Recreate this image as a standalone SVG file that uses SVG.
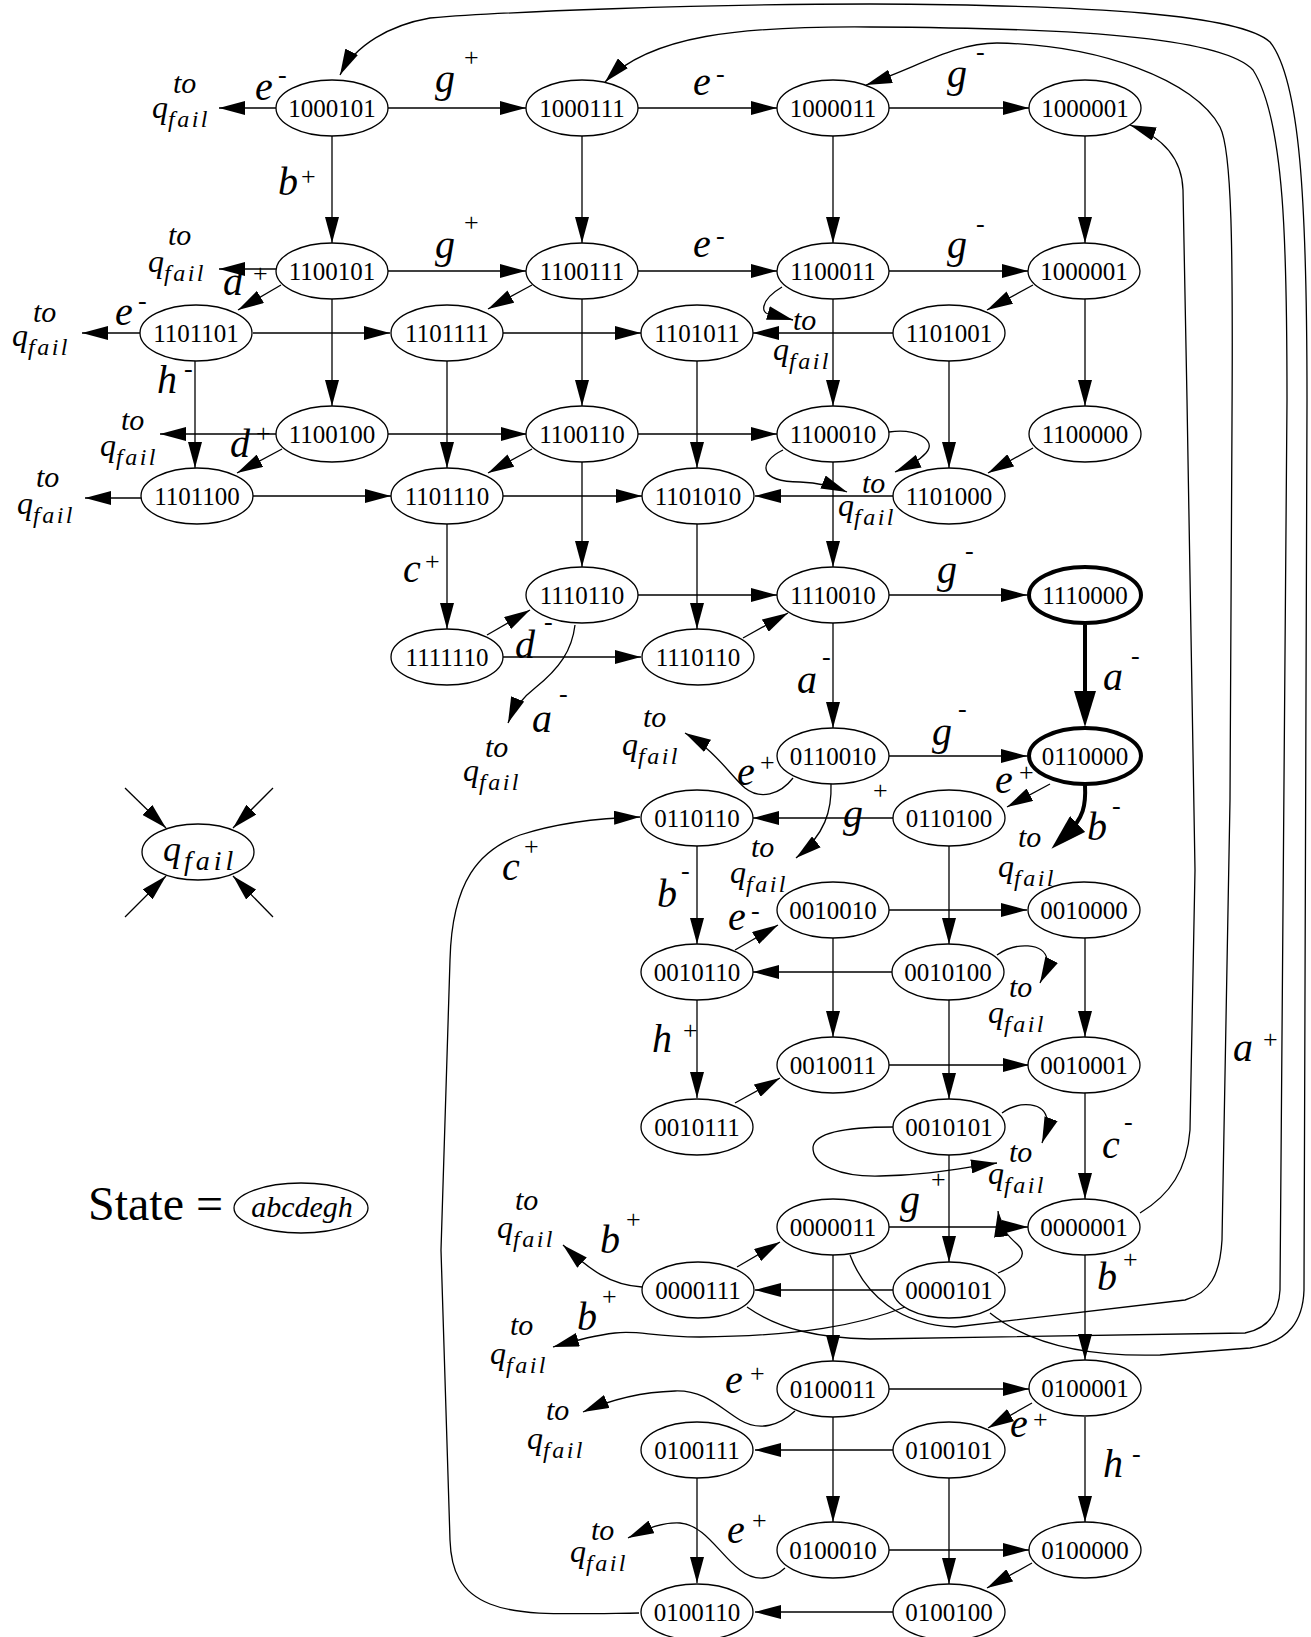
<svg xmlns="http://www.w3.org/2000/svg" width="1311" height="1637" viewBox="0 0 1311 1637">
<style>
.e path{fill:none;stroke:#000;stroke-width:1.3;marker-end:url(#ah)}
.e path.b{stroke-width:4;marker-end:url(#ahb)}
.n ellipse{fill:#fff;stroke:#000;stroke-width:1.3}
.n.bold ellipse{stroke-width:4}
.n text{font-family:"Liberation Serif",serif;font-size:25px;text-anchor:middle}
.l{font-family:"Liberation Serif",serif;font-style:italic;font-size:40px}
.s{font-style:normal;font-size:26px}
.t{font-family:"Liberation Serif",serif;font-style:italic;font-size:30px}
.q{font-size:32px}
.f{font-size:24px;letter-spacing:2.5px}
</style>
<defs>
<marker id="ah" viewBox="0 0 26 14" refX="26" refY="7" markerWidth="26" markerHeight="14" markerUnits="userSpaceOnUse" orient="auto"><path d="M0,0 L26,7 L0,14 Z" fill="#000"/></marker>
<marker id="ahb" viewBox="0 0 36 22" refX="16" refY="11" markerWidth="36" markerHeight="22" markerUnits="userSpaceOnUse" orient="auto"><path d="M0,0 L36,11 L0,22 Z" fill="#000"/></marker>
</defs>
<rect width="1311" height="1637" fill="#fff"/>
<g id="edges" class="e">
<path d="M276,108H219"/><path d="M388,108H526"/><path d="M638,108H777"/><path d="M889,108H1029"/>
<path d="M276,269H219"/><path d="M388,271H526"/><path d="M638,271H777"/><path d="M889,271H1028"/>
<path d="M140,333H82"/><path d="M253,333H390"/><path d="M503,333H641"/><path d="M893,333H753"/>
<path d="M276,434H160"/><path d="M388,434H527"/><path d="M638,434H777"/>
<path d="M141,498H85"/><path d="M253,496H391"/><path d="M503,496H642"/><path d="M893,496H755"/>
<path d="M638,595H777"/><path d="M889,595H1027"/><path d="M503,657H641"/>
<path d="M889,756H1027"/><path d="M893,818H753"/><path d="M889,910H1027"/><path d="M892,972H753"/>
<path d="M889,1065H1029"/><path d="M889,1227H1028"/><path d="M893,1290H755"/><path d="M889,1389H1029"/>
<path d="M893,1450H755"/><path d="M889,1550H1029"/><path d="M893,1612H755"/>
<path d="M332,136V243"/><path d="M332,299V406"/>
<path d="M582,136V243"/><path d="M582,299V406"/><path d="M582,462V567"/>
<path d="M833,136V243"/><path d="M833,299V406"/><path d="M833,462V567"/><path d="M833,623V728"/>
<path d="M833,938V1037"/><path d="M833,1255V1361"/><path d="M833,1417V1522"/>
<path d="M1085,136V243"/><path d="M1085,299V406"/><path d="M1085,938V1037"/><path d="M1085,1093V1199"/>
<path d="M1085,1255V1360"/><path d="M1085,1417V1522"/>
<path class="b" d="M1085,625V707"/>
<path d="M195,361V468"/><path d="M447,361V468"/><path d="M447,524V629"/>
<path d="M697,361V468"/><path d="M697,524V629"/><path d="M697,846V944"/><path d="M697,1000V1098"/><path d="M697,1478V1583"/>
<path d="M949,361V468"/><path d="M949,846V944"/><path d="M949,1000V1099"/><path d="M949,1155V1262"/><path d="M949,1478V1584"/>
<path d="M281,285L238,310"/><path d="M532,285L488,309"/><path d="M1033,285L987,310"/>
<path d="M282,449L237,473"/><path d="M532,449L488,473"/><path d="M1033,448L988,473"/>
<path d="M487,635L530,610"/><path d="M743,638L788,613"/><path d="M1050,784L1007,807"/>
<path d="M735,950L778,925"/><path d="M735,1103L780,1078"/><path d="M737,1267L780,1242"/>
<path d="M1032,1403L988,1428"/><path d="M1032,1563L987,1588"/>
<path d="M125,788L166,828"/><path d="M273,788L233,828"/><path d="M125,917L166,876"/><path d="M273,917L233,876"/>
<path d="M782,287C760,300 758,316 775,315L793,320"/>
<path d="M889,432C915,428 938,440 926,453C918,462 906,467 895,472"/>
<path d="M783,450C758,462 758,482 800,482C820,483 835,487 847,492"/>
<path d="M575,625C572,650 560,668 535,688C522,698 514,708 508,723"/>
<path d="M793,778C780,795 760,800 745,788C730,775 715,750 685,733"/>
<path d="M831,784C832,810 825,835 796,858"/>
<path class="b" d="M1085,785C1086,805 1084,818 1066,835"/>
<path d="M639,1613C560,1614 520,1616 490,1604C460,1592 451,1570 450,1540L441,1250L450,960C452,880 480,850 520,835C560,822 600,818 640,817"/>
<path d="M997,955C1015,942 1045,942 1047,960C1047,968 1044,975 1040,983"/>
<path d="M1002,1113C1020,1100 1045,1102 1047,1120C1047,1128 1045,1135 1042,1143"/>
<path d="M893,1127C850,1127 815,1132 813,1147C812,1165 840,1177 880,1176C930,1175 960,1168 997,1163"/>
<path d="M642,1287C610,1285 590,1270 563,1245"/>
<path d="M905,1307C860,1325 800,1336 700,1337C650,1337 640,1330 615,1333C590,1336 570,1342 553,1347"/>
<path d="M998,1273C1015,1266 1030,1257 1018,1245C1008,1236 1000,1228 998,1211"/>
<path d="M795,1411C780,1425 760,1432 740,1420C720,1408 705,1390 675,1391C640,1392 610,1400 583,1412"/>
<path d="M785,1568C772,1580 755,1582 740,1570C720,1555 705,1525 680,1523C660,1522 645,1530 628,1538"/>
<path d="M990,1313C1030,1345 1090,1357 1160,1355L1250,1348C1290,1342 1303,1320 1304,1290L1307,400C1307,200 1300,80 1270,42C1240,15 1100,5 870,4C700,4 500,12 430,18C390,25 355,45 340,75"/>
<path d="M747,1307C780,1330 820,1338 870,1339L1245,1333C1270,1328 1279,1310 1280,1290L1287,400C1287,250 1285,120 1253,70C1225,40 1100,28 870,27C740,26 650,35 605,82"/>
<path d="M850,1255C865,1295 900,1325 955,1327L1185,1300C1210,1293 1220,1275 1222,1240L1230,800L1232,420C1233,250 1232,150 1220,127C1195,80 1100,45 997,43C955,43 920,66 866,85"/>
<path d="M1140,1213C1170,1195 1187,1170 1190,1130L1195,870L1187,400L1183,190C1182,160 1165,138 1130,125"/>
</g>
<g id="n1000101" class="n"><ellipse cx="332" cy="108" rx="56" ry="28"/><text x="332" y="117">1000101</text></g>
<g id="n1000111" class="n"><ellipse cx="582" cy="108" rx="56" ry="28"/><text x="582" y="117">1000111</text></g>
<g id="n1000011" class="n"><ellipse cx="833" cy="108" rx="56" ry="28"/><text x="833" y="117">1000011</text></g>
<g id="n1000001a" class="n"><ellipse cx="1085" cy="108" rx="56" ry="28"/><text x="1085" y="117">1000001</text></g>
<g id="n1100101" class="n"><ellipse cx="332" cy="271" rx="56" ry="28"/><text x="332" y="280">1100101</text></g>
<g id="n1100111" class="n"><ellipse cx="582" cy="271" rx="56" ry="28"/><text x="582" y="280">1100111</text></g>
<g id="n1100011" class="n"><ellipse cx="833" cy="271" rx="56" ry="28"/><text x="833" y="280">1100011</text></g>
<g id="n1000001b" class="n"><ellipse cx="1084" cy="271" rx="56" ry="28"/><text x="1084" y="280">1000001</text></g>
<g id="n1101101" class="n"><ellipse cx="196" cy="333" rx="56" ry="28"/><text x="196" y="342">1101101</text></g>
<g id="n1101111" class="n"><ellipse cx="447" cy="333" rx="56" ry="28"/><text x="447" y="342">1101111</text></g>
<g id="n1101011" class="n"><ellipse cx="697" cy="333" rx="56" ry="28"/><text x="697" y="342">1101011</text></g>
<g id="n1101001" class="n"><ellipse cx="949" cy="333" rx="56" ry="28"/><text x="949" y="342">1101001</text></g>
<g id="n1100100" class="n"><ellipse cx="332" cy="434" rx="56" ry="28"/><text x="332" y="443">1100100</text></g>
<g id="n1100110" class="n"><ellipse cx="582" cy="434" rx="56" ry="28"/><text x="582" y="443">1100110</text></g>
<g id="n1100010" class="n"><ellipse cx="833" cy="434" rx="56" ry="28"/><text x="833" y="443">1100010</text></g>
<g id="n1100000" class="n"><ellipse cx="1085" cy="434" rx="56" ry="28"/><text x="1085" y="443">1100000</text></g>
<g id="n1101100" class="n"><ellipse cx="197" cy="496" rx="56" ry="28"/><text x="197" y="505">1101100</text></g>
<g id="n1101110" class="n"><ellipse cx="447" cy="496" rx="56" ry="28"/><text x="447" y="505">1101110</text></g>
<g id="n1101010" class="n"><ellipse cx="698" cy="496" rx="56" ry="28"/><text x="698" y="505">1101010</text></g>
<g id="n1101000" class="n"><ellipse cx="949" cy="496" rx="56" ry="28"/><text x="949" y="505">1101000</text></g>
<g id="n1110110a" class="n"><ellipse cx="582" cy="595" rx="56" ry="28"/><text x="582" y="604">1110110</text></g>
<g id="n1110010" class="n"><ellipse cx="833" cy="595" rx="56" ry="28"/><text x="833" y="604">1110010</text></g>
<g id="n1110000" class="n bold"><ellipse cx="1085" cy="595" rx="56" ry="28"/><text x="1085" y="604">1110000</text></g>
<g id="n1111110" class="n"><ellipse cx="447" cy="657" rx="56" ry="28"/><text x="447" y="666">1111110</text></g>
<g id="n1110110b" class="n"><ellipse cx="698" cy="657" rx="56" ry="28"/><text x="698" y="666">1110110</text></g>
<g id="n0110010" class="n"><ellipse cx="833" cy="756" rx="56" ry="28"/><text x="833" y="765">0110010</text></g>
<g id="n0110000" class="n bold"><ellipse cx="1085" cy="756" rx="56" ry="28"/><text x="1085" y="765">0110000</text></g>
<g id="n0110110" class="n"><ellipse cx="697" cy="818" rx="56" ry="28"/><text x="697" y="827">0110110</text></g>
<g id="n0110100" class="n"><ellipse cx="949" cy="818" rx="56" ry="28"/><text x="949" y="827">0110100</text></g>
<g id="n0010010" class="n"><ellipse cx="833" cy="910" rx="56" ry="28"/><text x="833" y="919">0010010</text></g>
<g id="n0010000" class="n"><ellipse cx="1084" cy="910" rx="56" ry="28"/><text x="1084" y="919">0010000</text></g>
<g id="n0010110" class="n"><ellipse cx="697" cy="972" rx="56" ry="28"/><text x="697" y="981">0010110</text></g>
<g id="n0010100" class="n"><ellipse cx="948" cy="972" rx="56" ry="28"/><text x="948" y="981">0010100</text></g>
<g id="n0010011" class="n"><ellipse cx="833" cy="1065" rx="56" ry="28"/><text x="833" y="1074">0010011</text></g>
<g id="n0010001" class="n"><ellipse cx="1084" cy="1065" rx="56" ry="28"/><text x="1084" y="1074">0010001</text></g>
<g id="n0010111" class="n"><ellipse cx="697" cy="1127" rx="56" ry="28"/><text x="697" y="1136">0010111</text></g>
<g id="n0010101" class="n"><ellipse cx="949" cy="1127" rx="56" ry="28"/><text x="949" y="1136">0010101</text></g>
<g id="n0000011" class="n"><ellipse cx="833" cy="1227" rx="56" ry="28"/><text x="833" y="1236">0000011</text></g>
<g id="n0000001" class="n"><ellipse cx="1084" cy="1227" rx="56" ry="28"/><text x="1084" y="1236">0000001</text></g>
<g id="n0000111" class="n"><ellipse cx="698" cy="1290" rx="56" ry="28"/><text x="698" y="1299">0000111</text></g>
<g id="n0000101" class="n"><ellipse cx="949" cy="1290" rx="56" ry="28"/><text x="949" y="1299">0000101</text></g>
<g id="n0100011" class="n"><ellipse cx="833" cy="1389" rx="56" ry="28"/><text x="833" y="1398">0100011</text></g>
<g id="n0100001" class="n"><ellipse cx="1085" cy="1388" rx="56" ry="28"/><text x="1085" y="1397">0100001</text></g>
<g id="n0100111" class="n"><ellipse cx="697" cy="1450" rx="56" ry="28"/><text x="697" y="1459">0100111</text></g>
<g id="n0100101" class="n"><ellipse cx="949" cy="1450" rx="56" ry="28"/><text x="949" y="1459">0100101</text></g>
<g id="n0100010" class="n"><ellipse cx="833" cy="1550" rx="56" ry="28"/><text x="833" y="1559">0100010</text></g>
<g id="n0100000" class="n"><ellipse cx="1085" cy="1550" rx="56" ry="28"/><text x="1085" y="1559">0100000</text></g>
<g id="n0100110" class="n"><ellipse cx="697" cy="1612" rx="56" ry="28"/><text x="697" y="1621">0100110</text></g>
<g id="n0100100" class="n"><ellipse cx="949" cy="1612" rx="56" ry="28"/><text x="949" y="1621">0100100</text></g>
<g id="qfail" class="n"><ellipse cx="198" cy="852" rx="56" ry="28"/><text class="t" x="163" y="861" style="text-anchor:start"><tspan style="font-size:36px">q</tspan><tspan dx="3" dy="9" style="font-size:28px;letter-spacing:4px">fail</tspan></text></g>
<g id="legend"><text x="88" y="1220" style="font-family:'Liberation Serif',serif;font-size:48px">State =</text><ellipse cx="301" cy="1208" rx="67" ry="25" fill="#fff" stroke="#000" stroke-width="1.3"/><text x="302" y="1217" style="font-family:'Liberation Serif',serif;font-style:italic;font-size:30px;text-anchor:middle">abcdegh</text></g>
<g id="labels">
<text class="l" x="255" y="100">e<tspan class="s" x="278" y="83">-</tspan></text>
<text class="l" x="435" y="92">g<tspan class="s" x="464" y="66">+</tspan></text>
<text class="l" x="693" y="95">e<tspan class="s" x="716" y="82">-</tspan></text>
<text class="l" x="947" y="87">g<tspan class="s" x="976" y="60">-</tspan></text>
<text class="l" x="278" y="195">b<tspan class="s" x="301" y="185">+</tspan></text>
<text class="l" x="435" y="258">g<tspan class="s" x="464" y="231">+</tspan></text>
<text class="l" x="693" y="257">e<tspan class="s" x="716" y="244">-</tspan></text>
<text class="l" x="947" y="258">g<tspan class="s" x="976" y="232">-</tspan></text>
<text class="l" x="223" y="295">d<tspan class="s" x="253" y="282">+</tspan></text>
<text class="l" x="115" y="325">e<tspan class="s" x="138" y="309">-</tspan></text>
<text class="l" x="157" y="393">h<tspan class="s" x="184" y="377">-</tspan></text>
<text class="l" x="230" y="457">d<tspan class="s" x="256" y="442">+</tspan></text>
<text class="l" x="403" y="582">c<tspan class="s" x="425" y="570">+</tspan></text>
<text class="l" x="937" y="583">g<tspan class="s" x="965" y="559">-</tspan></text>
<text class="l" x="515" y="658">d<tspan class="s" x="544" y="630">-</tspan></text>
<text class="l" x="532" y="732">a<tspan class="s" x="559" y="702">-</tspan></text>
<text class="l" x="797" y="693">a<tspan class="s" x="822" y="665">-</tspan></text>
<text class="l" x="1103" y="690">a<tspan class="s" x="1131" y="664">-</tspan></text>
<text class="l" x="932" y="745">g<tspan class="s" x="958" y="717">-</tspan></text>
<text class="l" x="737" y="785">e<tspan class="s" x="760" y="771">+</tspan></text>
<text class="l" x="995" y="793">e<tspan class="s" x="1019" y="781">+</tspan></text>
<text class="l" x="1087" y="840">b<tspan class="s" x="1112" y="814">-</tspan></text>
<text class="l" x="843" y="827">g<tspan class="s" x="873" y="799">+</tspan></text>
<text class="l" x="502" y="880">c<tspan class="s" x="524" y="855">+</tspan></text>
<text class="l" x="657" y="907">b<tspan class="s" x="681" y="879">-</tspan></text>
<text class="l" x="728" y="930">e<tspan class="s" x="751" y="919">-</tspan></text>
<text class="l" x="652" y="1052">h<tspan class="s" x="683" y="1039">+</tspan></text>
<text class="l" x="1102" y="1158">c<tspan class="s" x="1124" y="1130">-</tspan></text>
<text class="l" x="1233" y="1061">a<tspan class="s" x="1263" y="1048">+</tspan></text>
<text class="l" x="900" y="1213">g<tspan class="s" x="931" y="1188">+</tspan></text>
<text class="l" x="600" y="1253">b<tspan class="s" x="626" y="1228">+</tspan></text>
<text class="l" x="577" y="1330">b<tspan class="s" x="602" y="1305">+</tspan></text>
<text class="l" x="1097" y="1290">b<tspan class="s" x="1123" y="1268">+</tspan></text>
<text class="l" x="725" y="1393">e<tspan class="s" x="750" y="1382">+</tspan></text>
<text class="l" x="1010" y="1437">e<tspan class="s" x="1033" y="1428">+</tspan></text>
<text class="l" x="1103" y="1477">h<tspan class="s" x="1132" y="1462">-</tspan></text>
<text class="l" x="727" y="1543">e<tspan class="s" x="752" y="1529">+</tspan></text>
<text class="t"><tspan x="173" y="93">to</tspan><tspan class="q" x="152" y="118">q</tspan><tspan class="f" dy="9">fail</tspan></text>
<text class="t"><tspan x="168" y="245">to</tspan><tspan class="q" x="148" y="272">q</tspan><tspan class="f" dy="9">fail</tspan></text>
<text class="t"><tspan x="33" y="322">to</tspan><tspan class="q" x="12" y="346">q</tspan><tspan class="f" dy="9">fail</tspan></text>
<text class="t"><tspan x="793" y="330">to</tspan><tspan class="q" x="773" y="360">q</tspan><tspan class="f" dy="9">fail</tspan></text>
<text class="t"><tspan x="121" y="430">to</tspan><tspan class="q" x="100" y="456">q</tspan><tspan class="f" dy="9">fail</tspan></text>
<text class="t"><tspan x="36" y="487">to</tspan><tspan class="q" x="17" y="514">q</tspan><tspan class="f" dy="9">fail</tspan></text>
<text class="t"><tspan x="862" y="493">to</tspan><tspan class="q" x="838" y="516">q</tspan><tspan class="f" dy="9">fail</tspan></text>
<text class="t"><tspan x="485" y="757">to</tspan><tspan class="q" x="463" y="781">q</tspan><tspan class="f" dy="9">fail</tspan></text>
<text class="t"><tspan x="643" y="727">to</tspan><tspan class="q" x="622" y="755">q</tspan><tspan class="f" dy="9">fail</tspan></text>
<text class="t"><tspan x="751" y="857">to</tspan><tspan class="q" x="730" y="883">q</tspan><tspan class="f" dy="9">fail</tspan></text>
<text class="t"><tspan x="1018" y="847">to</tspan><tspan class="q" x="998" y="877">q</tspan><tspan class="f" dy="9">fail</tspan></text>
<text class="t"><tspan x="1009" y="997">to</tspan><tspan class="q" x="988" y="1023">q</tspan><tspan class="f" dy="9">fail</tspan></text>
<text class="t"><tspan x="1009" y="1162">to</tspan><tspan class="q" x="988" y="1184">q</tspan><tspan class="f" dy="9">fail</tspan></text>
<text class="t"><tspan x="515" y="1210">to</tspan><tspan class="q" x="497" y="1238">q</tspan><tspan class="f" dy="9">fail</tspan></text>
<text class="t"><tspan x="510" y="1335">to</tspan><tspan class="q" x="490" y="1364">q</tspan><tspan class="f" dy="9">fail</tspan></text>
<text class="t"><tspan x="546" y="1420">to</tspan><tspan class="q" x="527" y="1449">q</tspan><tspan class="f" dy="9">fail</tspan></text>
<text class="t"><tspan x="591" y="1540">to</tspan><tspan class="q" x="570" y="1562">q</tspan><tspan class="f" dy="9">fail</tspan></text>
</g>
</svg>
